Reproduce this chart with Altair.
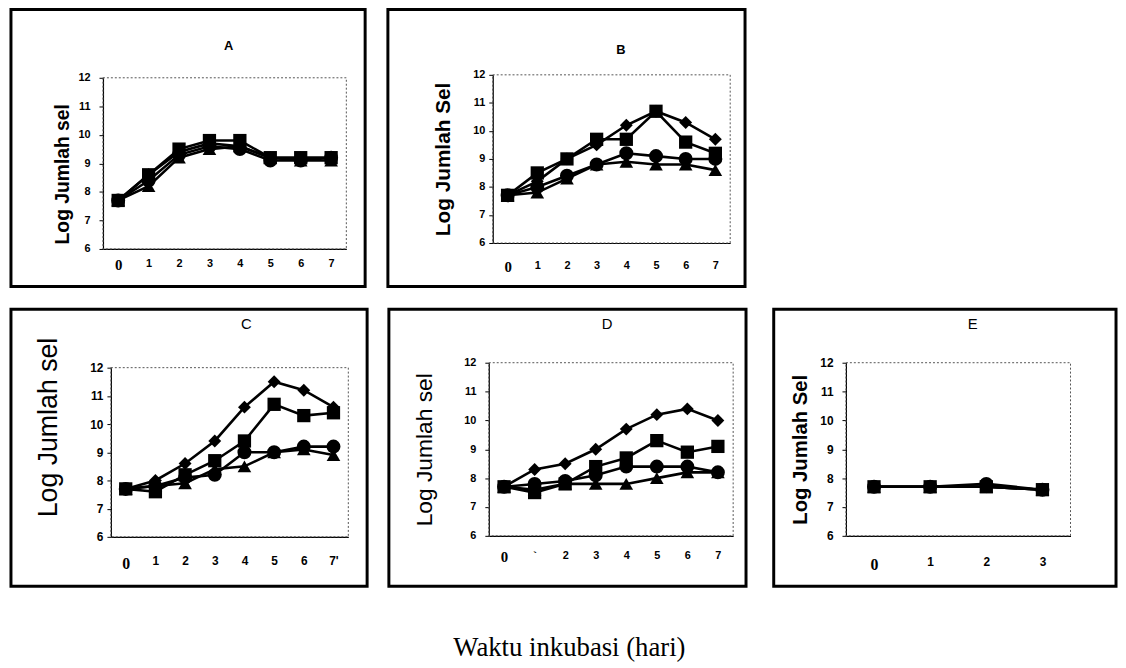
import altair as alt
import pandas as pd

# ---- data ----
days8 = [0, 1, 2, 3, 4, 5, 6, 7]
days4 = [0, 1, 2, 3]
SERIES = ["diamond", "square", "triangle", "circle"]

a_diamond = [7.7, 8.6, 9.4, 9.7, 9.6, 9.2, 9.2, 9.2]
a_square = [7.7, 8.6, 9.5, 9.8, 9.8, 9.2, 9.2, 9.2]
a_triangle = [7.7, 8.2, 9.2, 9.5, 9.6, 9.2, 9.1, 9.1]
a_circle = [7.7, 8.4, 9.3, 9.6, 9.5, 9.1, 9.1, 9.2]

b_diamond = [7.7, 8.2, 9.0, 9.5, 10.2, 10.7, 10.3, 9.7]
b_square = [7.7, 8.5, 9.0, 9.7, 9.7, 10.7, 9.6, 9.2]
b_triangle = [7.7, 7.8, 8.3, 8.8, 8.9, 8.8, 8.8, 8.6]
b_circle = [7.7, 8.0, 8.4, 8.8, 9.2, 9.1, 9.0, 9.0]

c_diamond = [7.7, 8.0, 8.6, 9.4, 10.6, 11.5, 11.2, 10.6]
c_square = [7.7, 7.6, 8.2, 8.7, 9.4, 10.7, 10.3, 10.4]
c_triangle = [7.7, 7.8, 7.9, 8.4, 8.5, 9.0, 9.1, 8.9]
c_circle = [7.7, 7.8, 8.1, 8.2, 9.0, 9.0, 9.2, 9.2]

d_diamond = [7.7, 8.3, 8.5, 9.0, 9.7, 10.2, 10.4, 10.0]
d_square = [7.7, 7.5, 7.8, 8.4, 8.7, 9.3, 8.9, 9.1]
d_triangle = [7.7, 7.6, 7.8, 7.8, 7.8, 8.0, 8.2, 8.2]
d_circle = [7.7, 7.8, 7.9, 8.1, 8.4, 8.4, 8.4, 8.2]

e_diamond = [7.7, 7.7, 7.7, 7.6]
e_square = [7.7, 7.7, 7.7, 7.6]
e_triangle = [7.7, 7.7, 7.7, 7.6]
e_circle = [7.7, 7.7, 7.8, 7.6]

y_ticks = [6, 7, 8, 9, 10, 11, 12]


def make_df(days, d, s, t, c):
    rows = []
    for name, vals in zip(SERIES, [d, s, t, c]):
        for day, v in zip(days, vals):
            rows.append({"day": day, "value": v, "series": name})
    return pd.DataFrame(rows)


def panel(letter, days, vals, W, H, pl, pr, pt, pb, ytitle, yt_size, yt_weight,
          yt_pad, ylab_size, ylab_pad, xlab_pad, t_dx, t_off, t_size, t_weight,
          label_expr=None, title_y=None):
    df = make_df(days, *vals)
    n = len(days)
    xaxis = dict(
        values=days, format="d", title=None, offset=-(H - pb), domainColor="black", domainWidth=1.2,
        ticks=False, labelPadding=xlab_pad,
        labelFont=alt.condition("datum.value == 0", alt.value("Liberation Serif"), alt.value("Liberation Sans")),
        labelFontSize=alt.condition("datum.value == 0", alt.value(ylab_size + 4), alt.value(ylab_size)),
        labelColor=alt.condition("datum.value == 0", alt.value("black"), alt.value("black")),
        labelFontWeight="bold", grid=False,
    )
    if label_expr:
        xaxis["labelExpr"] = label_expr
    yaxis = dict(values=y_ticks, title=ytitle, offset=-pl, domainColor="black", domainWidth=1.2,
                 tickColor="black", tickSize=4, labelPadding=ylab_pad, labelFont="Liberation Sans",
                 labelFontWeight="bold", labelFontSize=ylab_size, labelColor="black", grid=False,
                 titleFont="Liberation Sans", titleFontSize=yt_size, titleFontWeight=yt_weight,
                 titleColor="black", titlePadding=yt_pad)
    if title_y is not None:
        yaxis["titleY"] = title_y
    x = alt.X("day:Q", scale=alt.Scale(domain=[-0.5, n - 0.5], range=[pl, pr], nice=False, zero=False),
              axis=alt.Axis(**xaxis))
    y = alt.Y("value:Q", scale=alt.Scale(domain=[6, 12], range=[pb, pt], nice=False, zero=False),
              axis=alt.Axis(**yaxis))
    frame = alt.Chart(pd.DataFrame({"k": [0]})).mark_rect(
        fillOpacity=0, stroke="#555", strokeDash=[2, 2], strokeWidth=1
    ).encode(x=alt.datum(-0.5), x2=alt.datum(n - 0.5), y=alt.datum(6), y2=alt.datum(12))
    base = alt.Chart(df).encode(x=x, y=y)
    lines = base.mark_line(color="black", strokeWidth=2.6).encode(detail="series:N")
    pts = base.mark_point(filled=True, color="black", opacity=1).encode(
        shape=alt.Shape("series:N", scale=alt.Scale(domain=SERIES, range=["diamond", "square", "triangle-up", "circle"]), legend=None),
        size=alt.Size("series:N", scale=alt.Scale(domain=SERIES, range=[170, 200, 150, 150]), legend=None),
    )
    return alt.layer(frame, lines, pts).properties(
        width=W, height=H,
        title=alt.TitleParams(text=letter, anchor="middle", frame="group", dx=t_dx, offset=t_off,
                              baseline="alphabetic", font="Liberation Sans", fontSize=t_size,
                              fontWeight=t_weight, color="black"),
    )


A = panel("A", days8, [a_diamond, a_square, a_triangle, a_circle], 358, 280, 93, 339, 69, 242,
          "Log Jumlah sel", 19.5, "bold", 6, 11, 9, 9, 41, -54, 13, "bold", title_y=166)
B = panel("B", days8, [b_diamond, b_square, b_triangle, b_circle], 361, 280, 106, 346, 66, 236,
          "Log Jumlah Sel", 21, "bold", 19, 11, 4, 17, 55, -58, 13, "bold")
C = panel("C", days8, [c_diamond, c_square, c_triangle, c_circle], 360, 280, 101, 341, 59, 230,
          "Log Jumlah sel", 27, "normal", 28, 12, 4, 19, 58, -35, 15, "normal",
          label_expr="datum.value == 7 ? \"7'\" : datum.label", title_y=119)
D = panel("D", days8, [d_diamond, d_square, d_triangle, d_circle], 361, 280, 101, 348, 54, 229,
          "Log Jumlah sel", 23, "normal", 28, 11, 9, 14, 40, -35, 15, "normal",
          label_expr="datum.value == 1 ? '`' : datum.label")
E = panel("E", days4, [e_diamond, e_square, e_triangle, e_circle], 346, 280, 73, 300, 54, 229,
          "Log Jumlah Sel", 20.5, "bold", 9.5, 12, 9, 21, 28, -35, 15, "normal")

row1 = alt.hconcat(A, B, spacing=19)
row2 = alt.hconcat(alt.hconcat(C, D, spacing=18), E, spacing=24)

chart = alt.vconcat(
    row1, row2, spacing=19,
    title=alt.TitleParams(text="Waktu inkubasi (hari)", orient="bottom", anchor="middle", offset=48,
                          font="Liberation Serif", fontSize=27, fontWeight="normal", color="black", dx=6),
).properties(
    padding={"left": 1, "top": -4, "right": 0, "bottom": 0},
    background="white",
).configure_view(stroke="black", strokeWidth=3)

chart.save("out.html", embed_options={"renderer": "svg", "actions": False})
